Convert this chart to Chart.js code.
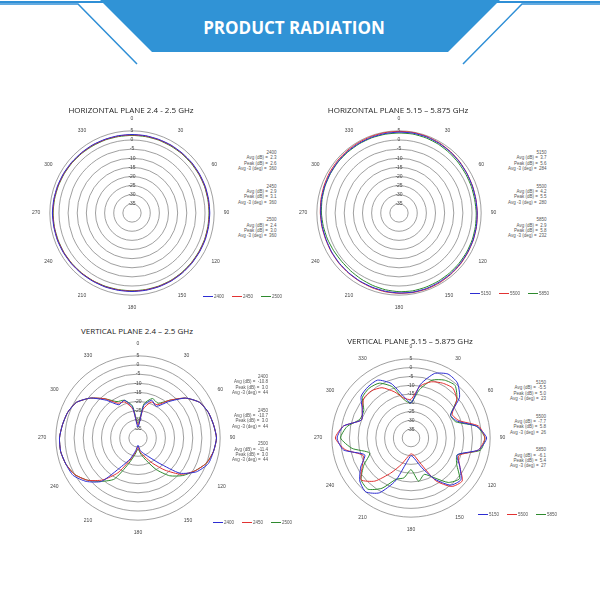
<!DOCTYPE html>
<html>
<head>
<meta charset="utf-8">
<script src="https://cdn.jsdelivr.net/npm/chart.js@4"></script>
<style>
  body { margin: 0; width: 600px; height: 600px; background: #fff; font-family: "Open Sans", sans-serif; position: relative; overflow: hidden; }
  canvas { position: absolute; }
  .title { position: absolute; font-size: 8px; color: #222; text-align: center; width: 240px; }
  .stats { position: absolute; font-family: Arial, "Liberation Sans", sans-serif; font-size: 4.5px; color: #555; line-height: 5.4px; text-align: right; }
  .stats div { margin-bottom: 12px; }
  .legend { position: absolute; font-family: Arial, "Liberation Sans", sans-serif; font-size: 4.5px; color: #555; }
  .legend span { display: inline-block; margin-right: 8px; }
  .legend i { display: inline-block; width: 10px; height: 1px; vertical-align: middle; margin-right: 1px; }
</style>
</head>
<body>
<svg width="600" height="70" style="position:absolute;left:0;top:0">
  <line x1="0" y1="2" x2="600" y2="2" stroke="#2f8fd6" stroke-width="2"/>
  <polyline points="0,4 78,4 137,64" fill="none" stroke="#2f8fd6" stroke-width="1.5"/>
  <polyline points="600,4 522,4 463,64" fill="none" stroke="#2f8fd6" stroke-width="1.5"/>
  <polygon points="100,0 500,0 448,52 152,52" fill="#3093d6"/>
  <text x="294" y="34" text-anchor="middle" font-family="Open Sans" font-weight="bold" font-size="17" fill="#fff">PRODUCT RADIATION</text>
</svg>

<script>
// angles every 10 degrees
const angles = [0,10,20,30,40,50,60,70,80,90,100,110,120,130,140,150,160,170,180,190,200,210,220,230,240,250,260,270,280,290,300,310,320,330,340,350];
const radialTicks = [5, 0, -5, -10, -15, -20, -25, -30, -35];

// horizontal plane 2.4 - 2.5 GHz
const h24_2400 = [3.0,3.0,2.9,2.9,2.8,2.8,2.7,2.7,2.6,2.6,2.6,2.7,2.7,2.8,2.9,3.0,3.0,3.0,3.0,3.0,3.1,3.1,3.2,3.3,3.4,3.5,3.5,3.6,3.5,3.4,3.3,3.2,3.1,3.1,3.0,3.0];
const h24_2450 = [2.8,2.8,2.7,2.7,2.6,2.6,2.5,2.5,2.4,2.4,2.4,2.5,2.5,2.6,2.7,2.8,2.8,2.8,2.8,2.8,2.9,2.9,3.0,3.1,3.2,3.3,3.3,3.4,3.3,3.2,3.1,3.0,2.9,2.9,2.8,2.8];
const h24_2500 = [2.5,2.5,2.5,2.4,2.4,2.3,2.3,2.3,2.2,2.2,2.2,2.3,2.3,2.4,2.5,2.6,2.6,2.6,2.6,2.6,2.7,2.8,2.9,3.0,3.1,3.1,3.2,3.2,3.1,3.0,2.9,2.8,2.7,2.6,2.6,2.5];

// horizontal plane 5.15 - 5.875 GHz
const h5_5150 = [4.3,4.4,4.3,4.0,3.7,3.3,3.0,2.8,2.7,2.8,3.0,3.2,3.3,3.5,3.7,3.8,4.0,4.0,3.8,3.5,3.2,3.0,2.8,2.7,2.6,2.5,2.7,2.9,3.1,3.3,3.5,3.7,3.9,4.0,4.1,4.2];
const h5_5500 = [4.7,4.8,4.6,4.3,3.9,3.5,3.1,2.9,2.8,2.9,3.1,3.3,3.5,3.8,4.0,4.2,4.3,4.2,4.0,3.8,3.5,3.2,3.0,2.9,2.8,2.7,2.9,3.1,3.4,3.7,4.0,4.2,4.4,4.5,4.6,4.7];
const h5_5850 = [3.8,3.9,3.7,3.4,3.0,2.6,2.3,2.2,2.1,2.3,2.5,2.7,2.8,2.9,3.0,3.1,3.2,3.3,3.1,2.7,2.2,1.7,1.3,1.1,1.3,1.7,2.1,2.5,2.8,3.1,3.3,3.5,3.6,3.7,3.8,3.8];

// vertical plane 2.4 - 2.5 GHz
const v24_2400 = [-34,-22,-18,-20,-14,-6,-1,1,2,3,2,1,-3,-10,-22,-28,-31,-33,-36,-33,-28,-22,-9,-3,1,2,3,3,2,1,-1,-6,-13,-19,-18,-23];
const v24_2450 = [-33,-24,-19,-19,-13,-6,-1,1,2,3,2,0,-4,-9,-17,-24,-29,-32,-35,-32,-27,-18,-10,-4,0,2,3,3,2,1,-1,-6,-12,-18,-19,-24];
const v24_2500 = [-32,-21,-17,-18,-13,-6,-1,1,2,3,2,0,-4,-8,-13,-20,-27,-31,-34,-31,-25,-14,-9,-4,0,2,3,3,2,1,-1,-6,-12,-17,-18,-22];

// vertical plane 5.15 - 5.875 GHz
const v5_5150 = [-20,-9,-1,2,1,-4,-14,-12,-2,3,-1,-12,-8,-3,-5,-13,-22,-28,-30,-26,-14,-4,0,-2,-7,-12,-1,2,-1,-10,-8,-3,-2,-2,-7,-16];
const v5_5500 = [-18,-10,-6,-4,-3,-6,-13,-11,-1,2,-1,-11,-8,-2,-4,-12,-25,-30,-31,-29,-24,-17,-8,-3,-8,-11,-2,3,-1,-10,-8,-5,-5,-7,-12,-17];
const v5_5850 = [-20,-12,-5,-2,-1,-6,-14,-13,-2,2,0,-12,-10,-4,-7,-14,-18,-15,-22,-17,-15,-7,-2,-3,-9,-15,-6,0,-3,-9,-9,-4,-3,-4,-9,-18];

const blue = "#2d2dd2", red = "#e23232", green = "#2e8a2e";

function polar(id, cx, cy, size, series) {
  let c = document.createElement("canvas");
  c.id = id; c.width = size; c.height = size;
  c.style.left = (cx - size / 2) + "px"; c.style.top = (cy - size / 2) + "px";
  document.body.appendChild(c);
  new Chart(c.getContext("2d"), {
    type: "radar",
    data: {
      labels: angles,
      datasets: series.map(s => ({
        data: s[0], borderColor: s[1], borderWidth: 1, pointRadius: 0, fill: false, tension: 0.2,
      })),
    },
    options: {
      responsive: false,
      animation: false,
      plugins: { legend: { display: false }, tooltip: { enabled: false } },
      scales: {
        r: {
          min: -40, max: 5,
          ticks: {
            stepSize: 5, showLabelBackdrop: false, color: "#444", font: { size: 5 },
            callback: v => radialTicks.includes(v) ? v : "",
          },
          grid: { circular: true, color: "#888", lineWidth: 0.8 },
          angleLines: { display: false },
          pointLabels: {
            color: "#444", font: { size: 5 }, padding: 5,
            callback: l => l % 30 === 0 ? String(l) : "",
          },
        },
      },
    },
  });
}

polar("c1", 131, 213, 200, [[h24_2400, blue], [h24_2450, red], [h24_2500, green]]);
polar("c2", 398, 213, 200, [[h5_5150, blue], [h5_5500, red], [h5_5850, green]]);
polar("c3", 137, 438, 200, [[v24_2400, blue], [v24_2450, red], [v24_2500, green]]);
polar("c4", 410, 438, 194, [[v5_5150, blue], [v5_5500, red], [v5_5850, green]]);

function addText(cls, x, y, html) {
  let d = document.createElement("div");
  d.className = cls; d.style.left = x + "px"; d.style.top = y + "px"; d.innerHTML = html;
  document.body.appendChild(d);
}
function stats(x, y, rows) {
  addText("stats", x, y, rows.map(r =>
    `<div>${r[0]}<br>Avg (dB) = &nbsp;${r[1]}<br>Peak (dB) = &nbsp;${r[2]}<br>Avg -3 (deg) = &nbsp;${r[3]}</div>`).join(""));
}
function legend(x, y, names) {
  const cols = [blue, red, green];
  addText("legend", x, y, names.map((n, i) => `<span><i style="background:${cols[i]}"></i>${n}</span>`).join(""));
}

addText("title", 11, 104, "HORIZONTAL PLANE 2.4 - 2.5 GHz");
addText("title", 278, 104, "HORIZONTAL PLANE 5.15 – 5.875 GHz");
addText("title", 17, 325, "VERTICAL PLANE 2.4 – 2.5 GHz");
addText("title", 290, 335, "VERTICAL PLANE 5.15 – 5.875 GHz");

stats(238, 150, [["2400", "2.3", "2.6", "360"], ["2450", "2.9", "3.1", "360"], ["2500", "2.4", "3.0", "360"]]);
stats(508, 150, [["5150", "3.7", "5.6", "284"], ["5500", "4.2", "5.5", "280"], ["5850", "2.9", "5.8", "232"]]);
stats(232, 374, [["2400", "-10.8", "3.0", "44"], ["2450", "-10.7", "3.0", "44"], ["2500", "-11.4", "3.0", "44"]]);
stats(510, 380, [["5150", "-5.5", "5.0", "23"], ["5500", "-7.7", "5.8", "26"], ["5850", "-6.1", "5.4", "27"]]);

legend(203, 294, ["2400", "2450", "2500"]);
legend(470, 291, ["5150", "5500", "5850"]);
legend(213, 520, ["2400", "2450", "2500"]);
legend(478, 512, ["5150", "5500", "5850"]);
</script>
</body>
</html>
